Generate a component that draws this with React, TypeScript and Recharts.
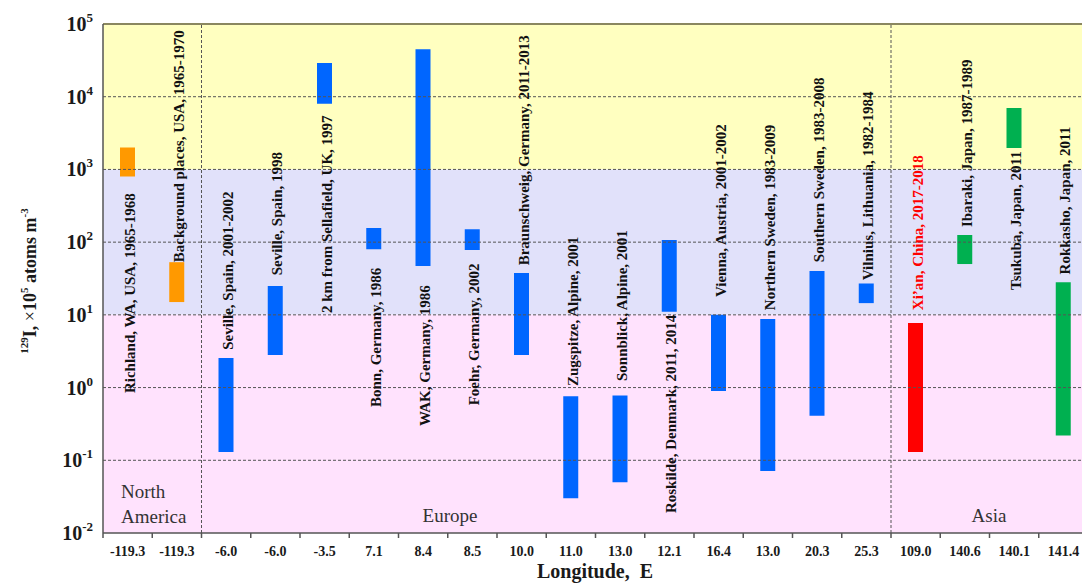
import React from 'react';
import {
  ComposedChart,
  Bar,
  Line,
  XAxis,
  YAxis,
  Cell,
  ReferenceArea,
  ReferenceLine,
} from 'recharts';

// ---------- data ----------
const sites = [
  'Richland, WA, USA, 1965-1968',
  'Background places, USA, 1965-1970',
  'Seville, Spain, 2001-2002',
  'Seville, Spain, 1998',
  '2 km from Sellafield, UK, 1997',
  'Bonn, Germany, 1986',
  'WAK, Germany, 1986',
  'Foehr, Germany, 2002',
  'Braunschweig, Germany, 2011-2013',
  'Zugspitze, Alpine, 2001',
  'Sonnblick, Alpine, 2001',
  'Roskilde, Denmark, 2011, 2014',
  'Vienna, Austria, 2001-2002',
  'Northern Sweden, 1983-2009',
  'Southern Sweden, 1983-2008',
  'Vilnius, Lithuania, 1982-1984',
  'Xi\u2019an, China, 2017-2018',
  'Ibaraki, Japan, 1987-1989',
  'Tsukuba, Japan, 2011',
  'Rokkasho, Japan, 2011',
];
const longitudes = [
  '-119.3', '-119.3', '-6.0', '-6.0', '-3.5', '7.1', '8.4', '8.5', '10.0', '11.0',
  '13.0', '12.1', '16.4', '13.0', '20.3', '25.3', '109.0', '140.6', '140.1', '141.4',
];
const lowValues = [
  800, 15, 0.13, 2.8, 8000, 80, 47, 78, 2.8, 0.03,
  0.05, 11, 0.9, 0.071, 0.41, 14.5, 0.13, 50, 1970, 0.22,
];
const highValues = [
  2000, 53, 2.55, 25, 29000, 156, 45000, 150, 37.6, 0.76,
  0.78, 107, 10, 8.8, 40, 27, 7.7, 125, 7000, 28,
];
const groups = [
  'na', 'na', 'eu', 'eu', 'eu', 'eu', 'eu', 'eu', 'eu', 'eu',
  'eu', 'eu', 'eu', 'eu', 'eu', 'eu', 'cn', 'jp', 'jp', 'jp',
];
// value (atoms) at which each site's rotated name starts
const labelAnchors = [
  0.84, 53, 3.3, 35, 10.6, 0.54, 0.295, 0.57, 48, 1.05,
  1.23, 0.0188, 17.6, 11.6, 53, 30, 11.6, 161, 22, 36,
];
const yTicks = [0.01, 0.1, 1, 10, 100, 1000, 10000, 100000];

// ---------- styles ----------
const groupColors: Record<string, string> = {
  na: '#FF9900',
  eu: '#0066FF',
  cn: '#FF0000',
  jp: '#00B050',
};
const SERIF = '"Liberation Serif", "Times New Roman", serif';
const BAND = (1088 - 103) / 20;

const data = sites.map((site, i) => ({
  site,
  range: [lowValues[i], highValues[i]],
  labelAt: labelAnchors[i],
}));

const YTick = (props: any) => {
  const { x, y, payload } = props;
  const exp = Math.round(Math.log10(payload.value));
  return (
    <text
      x={x - 2}
      y={y + 7}
      textAnchor="end"
      fontFamily={SERIF}
      fontWeight="bold"
      fill="#1a1a1a"
    >
      <tspan fontSize={20}>10</tspan>
      <tspan fontSize={13} dy={-9}>
        {exp}
      </tspan>
    </text>
  );
};

const XTick = (props: any) => {
  const { x, y, index } = props;
  const axisY = y - 8;
  return (
    <g>
      <line x1={x - BAND / 2} x2={x - BAND / 2} y1={axisY} y2={axisY + 5} stroke="#555" strokeWidth={1.5} />
      {index === sites.length - 1 && (
        <line x1={x + BAND / 2} x2={x + BAND / 2} y1={axisY} y2={axisY + 5} stroke="#555" strokeWidth={1.5} />
      )}
      <text
        x={x}
        y={axisY + 23}
        textAnchor="middle"
        fontFamily={SERIF}
        fontWeight="bold"
        fontSize={14}
        fill="#1a1a1a"
      >
        {longitudes[index]}
      </text>
    </g>
  );
};

const SiteLabel = (props: any) => {
  const { cx, cy, index } = props;
  if (cx == null || cy == null) return <g key={`lbl-${index}`} />;
  const tx = cx + 2;
  return (
    <text
      key={`lbl-${index}`}
      x={tx}
      y={cy}
      transform={`rotate(-90 ${tx} ${cy})`}
      textAnchor="start"
      dominantBaseline="central"
      fontFamily={SERIF}
      fontWeight="bold"
      fontSize={15}
      fill={groups[index] === 'cn' ? '#FF0000' : '#111'}
    >
      {sites[index]}
    </text>
  );
};

export default function App() {
  return (
    <div
      style={{
        position: 'fixed',
        left: 0,
        top: 0,
        width: 1082,
        height: 585,
        overflow: 'hidden',
        background: '#fff',
      }}
    >
      <ComposedChart
        width={1090}
        height={585}
        data={data}
        margin={{ top: 24, right: 2, left: 0, bottom: 22 }}
        barCategoryGap={0}
      >
        <ReferenceArea y1={1000} y2={100000} fill="#FFFFC0" fillOpacity={1} stroke="none" />
        <ReferenceArea y1={10} y2={1000} fill="#E1E1FA" fillOpacity={1} stroke="none" />
        <ReferenceArea y1={0.01} y2={10} fill="#FFE2FD" fillOpacity={1} stroke="none" />
        {[0.1, 1, 10, 100, 1000, 10000].map((v) => (
          <ReferenceLine key={v} y={v} stroke="#555" strokeDasharray="3 2" strokeWidth={1} />
        ))}
        <ReferenceLine x={sites[2]} position="start" stroke="#555" strokeDasharray="3 2" strokeWidth={1} />
        <ReferenceLine x={sites[16]} position="start" stroke="#555" strokeDasharray="3 2" strokeWidth={1} />
        <ReferenceLine y={100000} stroke="#8A8760" strokeWidth={2} />
        <XAxis
          dataKey="site"
          type="category"
          interval={0}
          height={30}
          tickSize={6}
          tickMargin={2}
          tickLine={false}
          axisLine={{ stroke: '#555', strokeWidth: 1.5 }}
          tick={<XTick />}
        />
        <YAxis
          scale="log"
          domain={[0.01, 100000]}
          ticks={yTicks}
          allowDataOverflow
          width={103}
          tickLine={false}
          axisLine={{ stroke: '#555', strokeWidth: 1.5 }}
          tick={<YTick />}
          interval={0}
        />
        <Bar dataKey="range" barSize={15} isAnimationActive={false}>
          {data.map((d, i) => (
            <Cell key={d.site} fill={groupColors[groups[i]]} />
          ))}
        </Bar>
        <Line
          dataKey="labelAt"
          stroke="none"
          dot={SiteLabel}
          activeDot={false}
          isAnimationActive={false}
          legendType="none"
        />
      </ComposedChart>
      <svg
        width={1082}
        height={585}
        style={{ position: 'absolute', left: 0, top: 0, pointerEvents: 'none' }}
      >
        <text
          transform="translate(30 281) rotate(-90)"
          textAnchor="middle"
          dominantBaseline="central"
          fontFamily={SERIF}
          fontWeight="bold"
          fontSize={18}
          fill="#1a1a1a"
        >
          <tspan fontSize={11} dy={-6}>129</tspan>
          <tspan dy={6}>I, </tspan>
          <tspan fontWeight="normal">{'\u00D7'}</tspan>
          <tspan>10</tspan>
          <tspan fontSize={11} dy={-6}>5</tspan>
          <tspan dy={6}> atoms m</tspan>
          <tspan fontSize={11} dy={-6}>-3</tspan>
        </text>
        <text x={121} y={498} fontFamily={SERIF} fontSize={19} fill="#333">North</text>
        <text x={121} y={523} fontFamily={SERIF} fontSize={19} fill="#333">America</text>
        <text x={450} y={522} textAnchor="middle" fontFamily={SERIF} fontSize={19} fill="#333">Europe</text>
        <text x={989} y={522} textAnchor="middle" fontFamily={SERIF} fontSize={19} fill="#333">Asia</text>
        <text
          x={595}
          y={578}
          textAnchor="middle"
          fontFamily={SERIF}
          fontWeight="bold"
          fontSize={20}
          fill="#1a1a1a"
          style={{ whiteSpace: 'pre' }}
        >
          {'Longitude,\u00A0\u00A0E'}
        </text>
      </svg>
    </div>
  );
}
